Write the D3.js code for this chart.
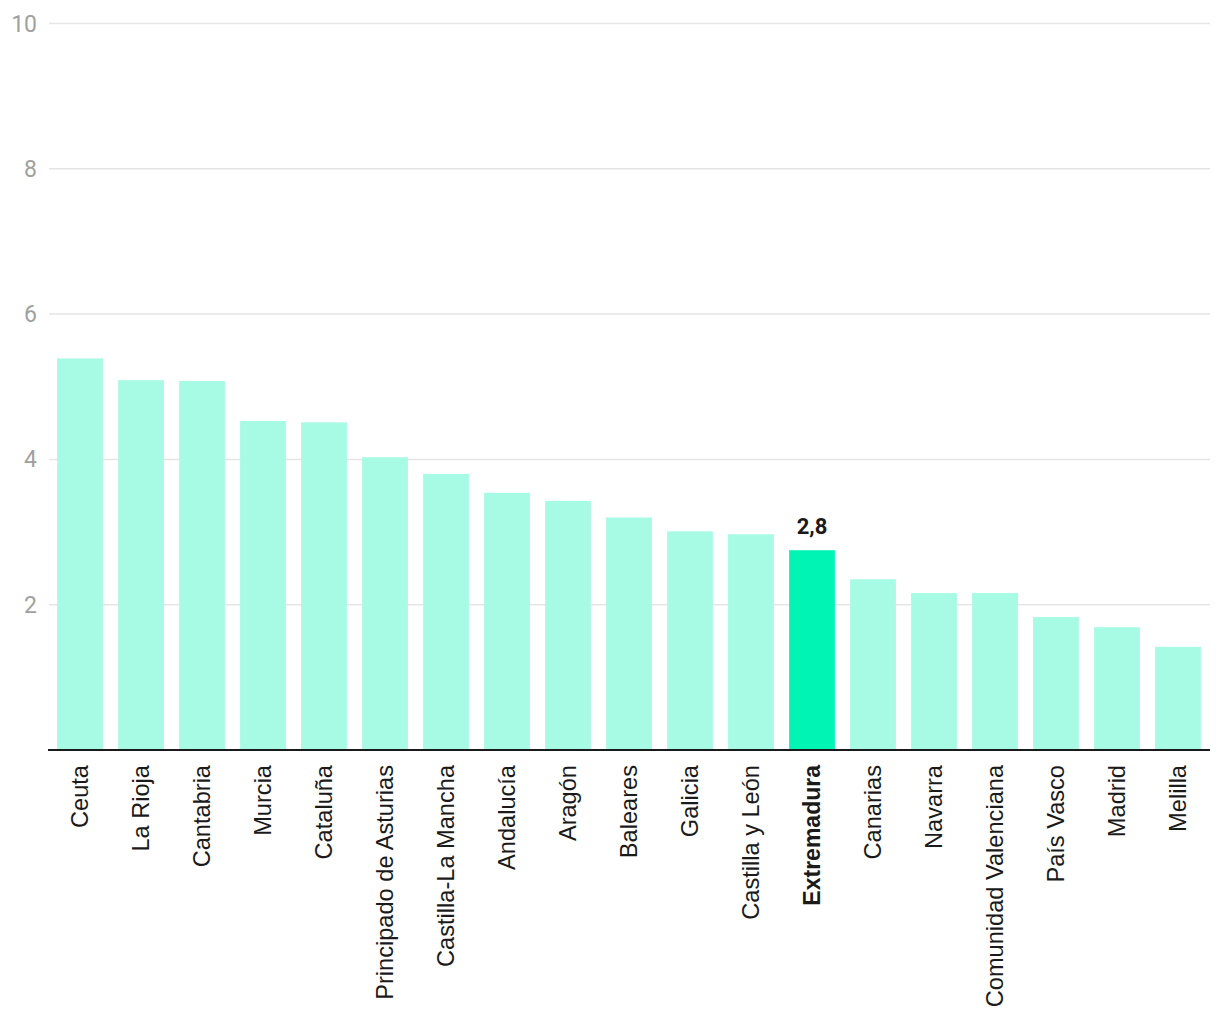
<!DOCTYPE html>
<html>
<head>
<meta charset="utf-8">
<script src="https://cdn.jsdelivr.net/npm/d3@7"></script>
<style>
html,body{margin:0;padding:0;background:#fff;}
svg{display:block;}
</style>
</head>
<body>
<svg id="chart" width="1220" height="1020"></svg>
<script>
const categories = ["Ceuta","La Rioja","Cantabria","Murcia","Cataluña","Principado de Asturias","Castilla-La Mancha","Andalucía","Aragón","Baleares","Galicia","Castilla y León","Extremadura","Canarias","Navarra","Comunidad Valenciana","País Vasco","Madrid","Melilla"];
const values = [5.39,5.09,5.08,4.53,4.51,4.03,3.80,3.54,3.43,3.20,3.01,2.97,2.75,2.35,2.16,2.16,1.83,1.69,1.42];
const highlight = ["Extremadura"];
const valueLabels = {"Extremadura":"2,8"};
const yTicks = [2,4,6,8,10];

(function(){
const svg = d3.select("#chart");
const mLeft = 48, mRight = 1210, mTop = 23.5, mBottom = 750;

const x = d3.scaleBand().domain(categories).range([mLeft, mRight]).paddingInner(0.25).paddingOuter(0.15);
const y = d3.scaleLinear().domain([0,10]).range([mBottom, mTop]);

// gridlines
svg.append("g").selectAll("line").data(yTicks).join("line")
  .attr("x1", mLeft+1).attr("x2", mRight)
  .attr("y1", d=>y(d)).attr("y2", d=>y(d))
  .attr("stroke", "#e5e5e5").attr("stroke-width", 1.5);

// y tick labels
svg.append("g").selectAll("text").data(yTicks).join("text")
  .attr("x", 37).attr("y", d=>y(d)).attr("dy","0.35em")
  .attr("text-anchor","end")
  .attr("font-family","Roboto, sans-serif").attr("font-size", 23)
  .attr("fill","#a0a0a0")
  .text(d=>d);

// bars
const data = categories.map((c,i)=>({c, v: values[i]}));
svg.append("g").selectAll("rect").data(data).join("rect")
  .attr("x", d=>x(d.c)).attr("width", x.bandwidth())
  .attr("y", d=>y(d.v)).attr("height", d=>y(0)-y(d.v))
  .attr("fill", d=>highlight.includes(d.c) ? "#00f5b4" : "#a7fae3");

// value labels
svg.append("g").selectAll("text").data(data.filter(d=>valueLabels[d.c])).join("text")
  .attr("x", d=>x(d.c)+x.bandwidth()/2).attr("y", d=>y(d.v)-16)
  .attr("text-anchor","middle")
  .attr("font-family","Roboto, sans-serif").attr("font-weight","bold").attr("font-size", 22)
  .attr("fill","#1a1a1a")
  .text(d=>valueLabels[d.c]);

// x axis line
svg.append("line").attr("x1", mLeft).attr("x2", mRight).attr("y1", mBottom).attr("y2", mBottom)
  .attr("stroke","#1a1a1a").attr("stroke-width",2);

// category labels
svg.append("g").selectAll("text").data(categories).join("text")
  .attr("transform", d=>`translate(${x(d)+x.bandwidth()/2},${mBottom+15}) rotate(-90)`)
  .attr("dy","0.35em")
  .attr("text-anchor","end")
  .attr("font-family","'Liberation Sans', Arial, sans-serif")
  .attr("font-size", d=>highlight.includes(d) ? 23 : 23.6)
  .attr("font-weight", d=>highlight.includes(d) ? "bold" : "normal")
  .attr("fill","#1a1a1a")
  .text(d=>d);
})();
</script>
</body>
</html>
